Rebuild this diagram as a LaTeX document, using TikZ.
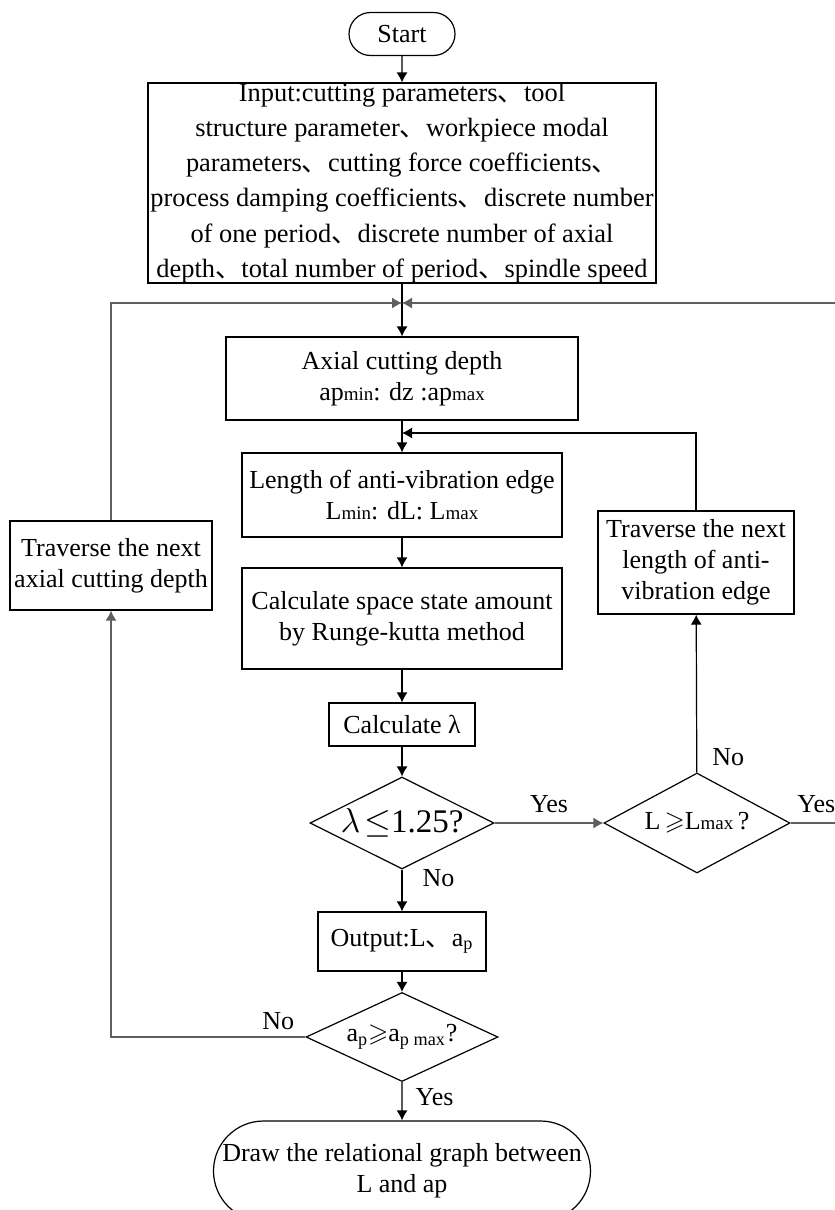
\documentclass[tikz,border=0pt]{standalone}
\usepackage{amsmath}
\usepackage{amssymb}
\usepackage{fontspec}
\setmainfont{Liberation Serif}
\newfontfamily\cjk{Noto Sans CJK SC}
\usepackage{tikz}
\usetikzlibrary{shapes.geometric, shapes.misc, arrows.meta}

\definecolor{loopgray}{RGB}{95,95,95}
\newcommand{\dun}{{\cjk 、}}
\newcommand{\sm}[1]{{\fontsize{9.5}{9.5}\selectfont #1}}

\tikzset{
  box/.style={draw, line width=0.6pt, inner sep=0pt, align=center},
  term/.style={box, rounded rectangle},
  decide/.style={box, diamond, aspect=2},
  arr/.style={line width=0.6pt, -{Latex[length=5pt, width=5.5pt]}},
  garr/.style={arr, loopgray},
  lbl/.style={inner sep=0pt, text=black}
}

\begin{document}
\begin{tikzpicture}[x=0.5pt, y=-0.5pt, font=\fontsize{13}{15.5}\selectfont]
\useasboundingbox (0,0) rectangle (835,1210);

\node[term, minimum width=53pt, minimum height=21.5pt] (start) at (402,34) {Start};
\node[box, minimum width=254pt, minimum height=97.5pt,
  font=\fontsize{13.2}{17.6}\selectfont] (input) at (402,183)
  {Input:cutting parameters\dun tool\\
   structure parameter\dun workpiece modal\\
   parameters\dun cutting force coefficients\dun\\
   process damping coefficients\dun discrete number\\
   of one period\dun discrete number of axial\\
   depth\dun total number of period\dun spindle speed};
\node[box, minimum width=176pt, minimum height=41.5pt] (axial) at (402,378.5)
  {Axial cutting depth\\ ap\sm{min}: dz :ap\sm{max}};
\node[box, minimum width=160pt, minimum height=42pt] (length) at (402,495)
  {Length of anti-vibration edge\\ L\sm{min}: dL: L\sm{max}};
\node[box, minimum width=160pt, minimum height=50.5pt] (calc) at (402,618.5)
  {Calculate space state amount\\ by Runge-kutta method};
\node[box, minimum width=73pt, minimum height=21.5pt] (calcl) at (402,724.5)
  {Calculate λ};
\node[decide, minimum width=92pt, minimum height=46pt,
  font=\fontsize{16.5}{18}\selectfont] (lam) at (402,823) {$\lambda\!\leq$1.25?};
\node[decide, minimum width=93pt, minimum height=50pt] (lcheck) at (697,823)
  {L$\,\geqslant$L\sm{max}\,?};
\node[box, minimum width=98pt, minimum height=51.5pt] (travl) at (696,562.5)
  {Traverse the next\\ length of anti-\\ vibration edge};
\node[box, minimum width=84pt, minimum height=29.5pt] (out) at (402,941.5)
  {Output:L\dun a\textsubscript{p}};
\node[decide, minimum width=96pt, minimum height=44.5pt] (apck) at (402,1037)
  {a\textsubscript{p}$\geqslant$a\textsubscript{p max}?};
\node[box, minimum width=101pt, minimum height=44.5pt] (trava) at (111,565.5)
  {Traverse the next\\ axial cutting depth};
\node[term, minimum width=188.5pt, minimum height=50pt] (final) at (402,1171)
  {Draw the relational graph between\\ L and ap};

\coordinate (j1) at (402,303);
\coordinate (j2) at (402,433);
\coordinate (rc) at (842,823);

% main line
\draw[arr] (start) -- (input);
\draw[arr] (input) -- (axial);
\draw[arr] (axial) -- (length);
\draw[arr] (length) -- (calc);
\draw[arr] (calc) -- (calcl);
\draw[arr] (calcl) -- (lam);
\draw[arr] (lam) -- node[lbl, right=10pt, pos=0.2] {No} (out);
\draw[arr] (out) -- (apck);
\draw[arr] (apck) -- node[lbl, right=6.5pt, pos=0.4] {Yes} (final);

% loops
\draw[garr] (lam) -- node[lbl, above=5pt] {Yes} (lcheck);
\draw[arr] (lcheck) -- node[lbl, right=7.5pt, pos=0.1] {No} (travl);
\draw[arr] (travl.north) |- (j2);
\draw[garr] (lcheck.east) -- node[lbl, above=5pt] {Yes} (rc) |- (j1);
\draw[garr] (apck.west) -| node[lbl, above=3.5pt, pos=0.07] {No} (trava.south);
\draw[garr] (trava.north) |- (j1);
\end{tikzpicture}
\end{document}
